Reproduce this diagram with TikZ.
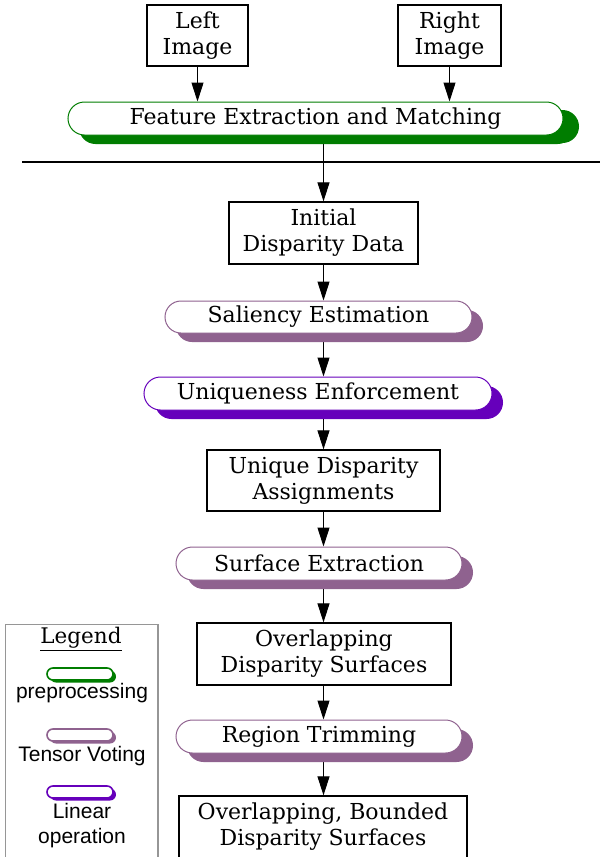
\documentclass[tikz,border=0pt]{standalone}
\usepackage{fontspec}
\setmainfont{DejaVu Serif}
\setsansfont{Liberation Sans}
\usetikzlibrary{arrows.meta,shadows,backgrounds,shapes.misc}
\definecolor{pgreen}{RGB}{0,125,0}
\definecolor{ptensor}{RGB}{143,98,143}
\definecolor{plinear}{RGB}{102,0,187}
\definecolor{legendgray}{RGB}{150,150,150}
\tikzset{
  box/.style={draw, line width=1.3pt, align=center, inner sep=0pt, font=\fontsize{22}{26}\selectfont},
  pill/.style={rounded rectangle, draw=#1, line width=1pt, fill=white, inner sep=0pt,
    font=\fontsize{22}{26}\selectfont,
    drop shadow={shadow xshift=11pt, shadow yshift=-9pt, fill=#1, opacity=1}},
  minipill/.style={rounded rectangle, draw=#1, line width=1.6pt, fill=white, inner sep=0pt,
    minimum width=66pt, minimum height=12pt,
    drop shadow={shadow xshift=3pt, shadow yshift=-2.5pt, fill=#1, opacity=1}},
  flow/.style={-{Triangle[length=19pt,width=12pt]}, line width=1pt},
  legtext/.style={font=\sffamily\fontsize{21}{25}\selectfont, align=center, inner sep=0pt},
}
\begin{document}
\begin{tikzpicture}[x=1pt,y=-1pt]
\clip (0,0) rectangle (600,857);

% top inputs
\node[box, minimum width=101pt, minimum height=61pt] (left) at (197.5,35.5) {Left\\Image};
\node[box, minimum width=103pt, minimum height=61pt] (right) at (449.5,35.5) {Right\\Image};
\node[pill=pgreen, minimum width=495pt, minimum height=33pt, drop shadow={shadow xshift=16pt, shadow yshift=-8pt, fill=pgreen, opacity=1}] (feat) at (315.5,118.5) {Feature Extraction and Matching};

% separator
\coordinate (hl) at (22,162);
\coordinate (hr) at (600,162);
\draw[line width=1.4pt] (hl) -- (hr);

% main column
\node[box, minimum width=189pt, minimum height=62pt] (init) at (323.5,233) {Initial\\Disparity Data};
\node[pill=ptensor, minimum width=307pt, minimum height=32pt] (sal) at (318.5,317) {Saliency Estimation};
\node[pill=plinear, minimum width=348pt, minimum height=33pt] (uniq) at (318,393.5) {Uniqueness Enforcement};
\node[box, minimum width=233pt, minimum height=61pt] (uda) at (323.5,480.5) {Unique Disparity\\Assignments};
\node[pill=ptensor, minimum width=286pt, minimum height=33pt] (surf) at (319,563.5) {Surface Extraction};
\node[box, minimum width=254pt, minimum height=62pt] (ods) at (324,654) {Overlapping\\Disparity Surfaces};
\node[pill=ptensor, minimum width=286pt, minimum height=33pt] (trim) at (319,736.5) {Region Trimming};
\node[box, minimum width=288pt, minimum height=62pt] (obds) at (323,827) {Overlapping, Bounded\\Disparity Surfaces};

% connectors
\begin{scope}[on background layer]
\fill[white] (0,0) rectangle (600,857);
\draw[flow] (left.south) -- (left.south |- feat.north);
\draw[flow] (right.south) -- (right.south |- feat.north);
\draw[flow] (init.north |- feat.south) -- (init.north);
\draw[flow] (init.south) -- (init.south |- sal.north);
\draw[flow] (init.south |- sal.south) -- (init.south |- uniq.north);
\draw[flow] (init.south |- uniq.south) -- (init.south |- uda.north);
\draw[flow] (init.south |- uda.south) -- (init.south |- surf.north);
\draw[flow] (init.south |- surf.south) -- (init.south |- ods.north);
\draw[flow] (init.south |- ods.south) -- (init.south |- trim.north);
\draw[flow] (init.south |- trim.south) -- (init.south |- obds.north);
\end{scope}

% legend
\node[draw=legendgray, line width=1.2pt, minimum width=152.5pt, minimum height=250pt, inner sep=0pt] (legbox) at (81.75,749.5) {};
\node[font=\fontsize{21.5}{24}\selectfont, inner sep=0pt] (legtitle) at (81,639) {\underline{Legend}};
\node[minipill=pgreen] (lp1) at (80,674) {};
\node[legtext] (lt1) at (82,693) {preprocessing};
\node[minipill=ptensor] (lp2) at (80,735) {};
\node[legtext] (lt2) at (82,756) {Tensor Voting};
\node[minipill=plinear] (lp3) at (80,792) {};
\node[legtext] (lt3) at (82,826) {Linear\\operation};
\end{tikzpicture}
\end{document}
